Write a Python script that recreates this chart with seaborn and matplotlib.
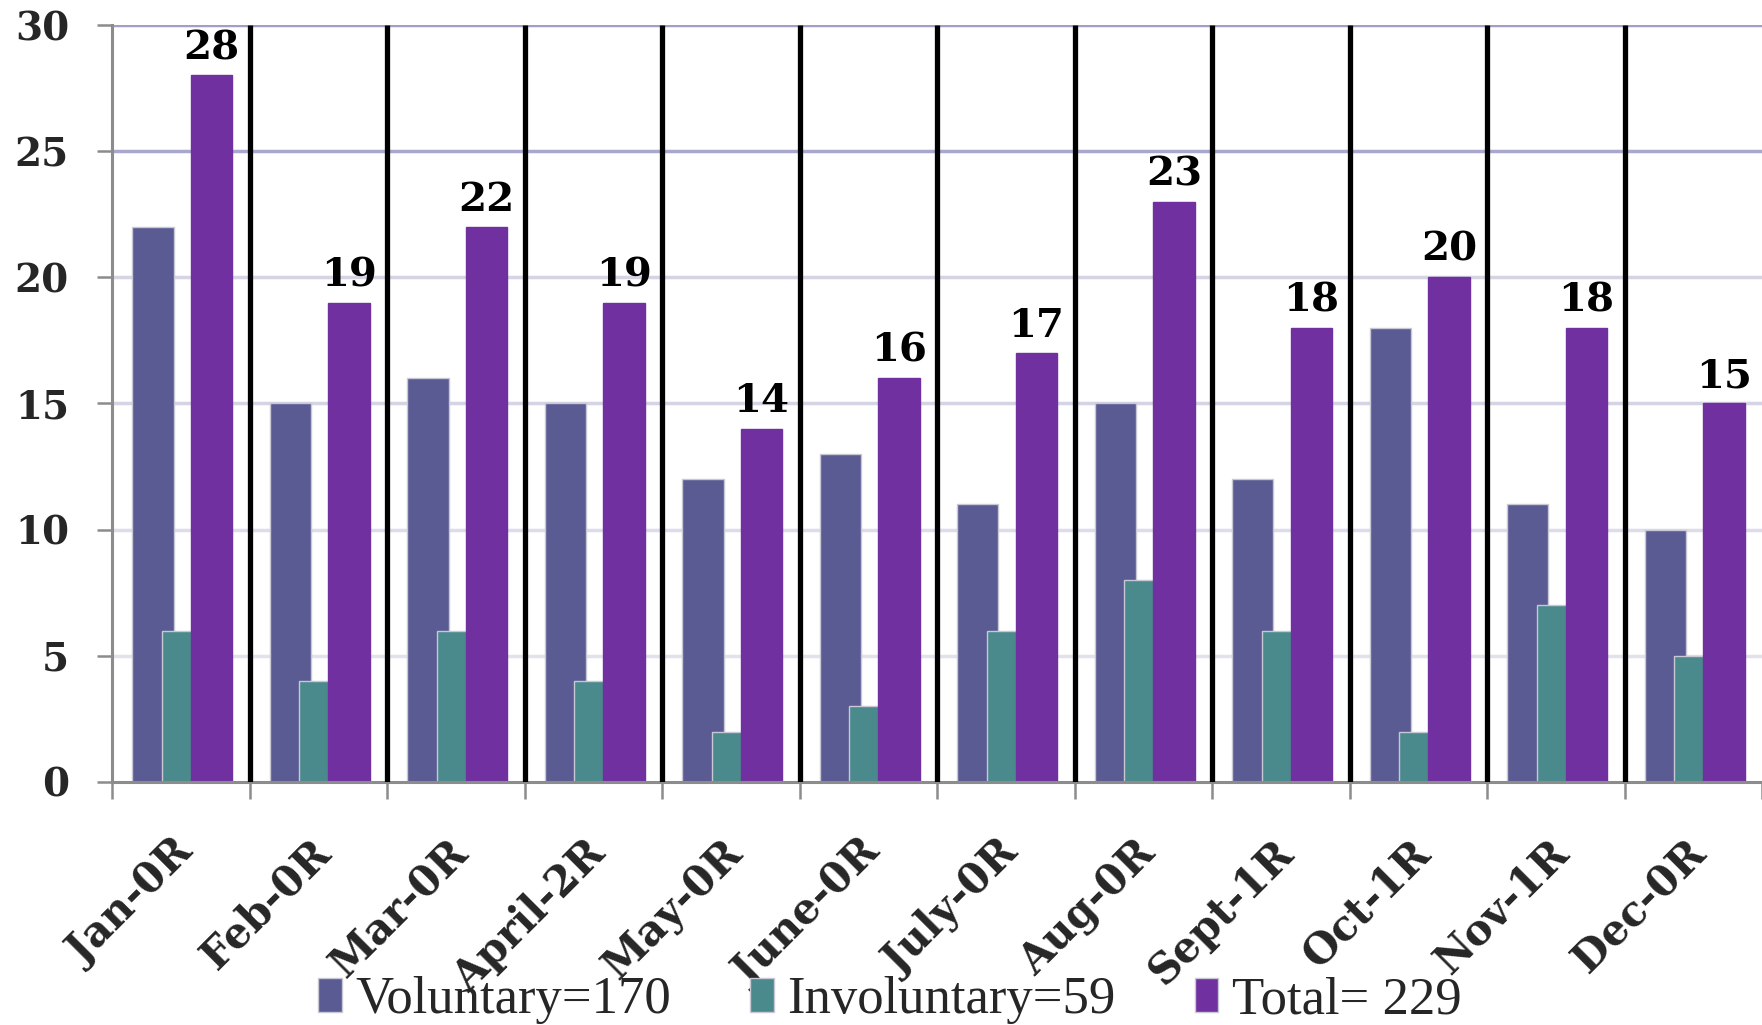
import numpy as np
import pandas as pd
import matplotlib
matplotlib.use("Agg")
import matplotlib.pyplot as plt
import matplotlib.transforms as mtransforms
from matplotlib.patches import Patch
import seaborn as sns

# chart data
months = ["Jan-0R", "Feb-0R", "Mar-0R", "April-2R", "May-0R", "June-0R",
          "July-0R", "Aug-0R", "Sept-1R", "Oct-1R", "Nov-1R", "Dec-0R"]
voluntary = [22, 15, 16, 15, 12, 13, 11, 15, 12, 18, 11, 10]
involuntary = [6, 4, 6, 4, 2, 3, 6, 8, 6, 2, 7, 5]
total = [28, 19, 22, 19, 14, 16, 17, 23, 18, 20, 18, 15]

series_names = ["Voluntary=170", "Involuntary=59", "Total= 229"]
colors = ["#5b5b94", "#4b8a8c", "#7030a0"]
yticks = [0, 5, 10, 15, 20, 25, 30]

BAR_W = 0.30
STEP = 0.213

sns.set_theme(style="white")
plt.rcParams["font.family"] = ["DejaVu Serif", "DejaVu Sans"]

fig = plt.figure(figsize=(17.62, 10.25), dpi=100)
ax = fig.add_axes([0.0636, 0.2371, 0.9364, 0.7385])

pos = np.arange(len(months))
df = pd.DataFrame({"pos": pos, "Voluntary": voluntary,
                   "Involuntary": involuntary, "Total": total})

for i, (col, c) in enumerate(zip(["Voluntary", "Involuntary", "Total"], colors)):
    ec = "#c8c8d4" if col != "Total" else c
    sns.barplot(x=df["pos"] + (i - 1) * STEP + 0.01, y=df[col], native_scale=True,
                width=BAR_W, color=c, saturation=1, errorbar=None,
                edgecolor=ec, linewidth=1, ax=ax)

# labels on total bars
ax.bar_label(ax.containers[2], labels=[str(v) for v in total], padding=6,
             fontsize=29, fontweight="bold", color="black")

# black separators between months
ax.vlines(pos[1:] - 0.5, 0, 30, colors="black", linewidth=3.8, zorder=3)

ax.set_xlim(-0.5, len(months) - 0.5)
ax.set_ylim(0, 30)
ax.set_xlabel("")
ax.set_ylabel("")

ax.set_yticks(yticks)
ax.set_yticklabels([str(t) for t in yticks], fontsize=28, fontweight="bold")
ax.tick_params(axis="y", length=11, width=1.8, color="#8c8c8c", pad=20,
               direction="out", left=True)

ax.set_xticks(pos)
ax.set_xticklabels(months, rotation=45, ha="right", rotation_mode="anchor",
                   fontsize=30, fontweight="bold")
ax.set_xticks(np.arange(len(months) + 1) - 0.5, minor=True)
ax.tick_params(axis="x", which="major", length=0, pad=36)
ax.tick_params(axis="x", which="minor", length=12, width=1.8, color="#8c8c8c",
               direction="out", bottom=True)
# nudge month labels a little to the left
shift = mtransforms.ScaledTranslation(-9 / 100, 0, fig.dpi_scale_trans)
for lab in ax.get_xticklabels():
    lab.set_transform(lab.get_transform() + shift)

ax.grid(axis="y", linewidth=2.5)
ax.set_axisbelow(True)
grid_colors = ["#ffffff", "#e2e2ec", "#dcdcea", "#d4d4e4", "#d4d4e4", "#a8a8cc", "#a0a0c6"]
for gl, gc in zip(ax.yaxis.get_gridlines(), grid_colors):
    gl.set_color(gc)

for s in ["top", "right"]:
    ax.spines[s].set_visible(False)
for s in ["left", "bottom"]:
    ax.spines[s].set_color("#8c8c8c")
    ax.spines[s].set_linewidth(2.2)

handles = [Patch(facecolor=c, edgecolor="#c8c8d4") for c in colors]
fig.legend(handles, series_names, loc="center", bbox_to_anchor=(0.505, 0.024),
           ncol=3, frameon=False, handlelength=0.45, handleheight=0.6,
           handletextpad=0.25, columnspacing=1.5,
           prop={"family": "Liberation Serif", "size": 38})

fig.savefig("out.png", dpi=100)
